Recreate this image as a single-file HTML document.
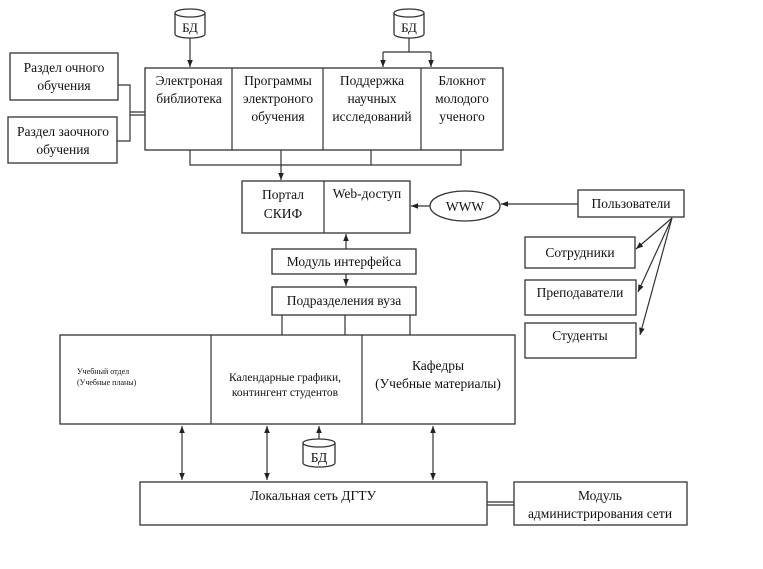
<!DOCTYPE html>
<html><head><meta charset="utf-8"><style>
body{margin:0;background:#fff}
svg{display:block}
text{font-family:"Liberation Serif",serif;fill:#111;text-anchor:middle}
.b{fill:#fff;stroke:#333;stroke-width:1.3}
.l{stroke:#333;stroke-width:1.2;fill:none}
</style></head><body>
<svg width="763" height="569" viewBox="0 0 763 569" xmlns="http://www.w3.org/2000/svg">
<defs><marker id="a" viewBox="0 0 10 10" refX="10" refY="5" markerWidth="6" markerHeight="6" orient="auto-start-reverse"><path d="M0,1 L10,5 L0,9z" fill="#222"/></marker></defs>

<!-- DB cylinders -->
<g id="db1"><path class="b" d="M175,13 v21 a15,4 0 0 0 30,0 v-21"/><ellipse class="b" cx="190" cy="13" rx="15" ry="4"/><text x="190" y="32" font-size="13">БД</text></g>
<path class="b" d="M394,13 v21 a15,4 0 0 0 30,0 v-21"/><ellipse class="b" cx="409" cy="13" rx="15" ry="4"/><text x="409" y="32" font-size="13">БД</text>
<line class="l" x1="190" y1="38" x2="190" y2="67" marker-end="url(#a)"/>
<path class="l" d="M409,38 V52 M383,52 H431"/>
<line class="l" x1="383" y1="52" x2="383" y2="67" marker-end="url(#a)"/>
<line class="l" x1="431" y1="52" x2="431" y2="67" marker-end="url(#a)"/>

<!-- top block -->
<rect class="b" x="145" y="68" width="358" height="82"/>
<path class="l" d="M232,68V150 M323,68V150 M421,68V150"/>
<text font-size="13.5"><tspan x="189" y="85">Электроная</tspan><tspan x="189" y="103">библиотека</tspan></text>
<text font-size="13.5"><tspan x="278" y="85">Программы</tspan><tspan x="278" y="103">электроного</tspan><tspan x="278" y="121">обучения</tspan></text>
<text font-size="13.5"><tspan x="372" y="85">Поддержка</tspan><tspan x="372" y="103">научных</tspan><tspan x="372" y="121">исследований</tspan></text>
<text font-size="13.5"><tspan x="462" y="85">Блокнот</tspan><tspan x="462" y="103">молодого</tspan><tspan x="462" y="121">ученого</tspan></text>

<!-- left boxes -->
<rect class="b" x="10" y="53" width="108" height="47"/>
<text font-size="13.5"><tspan x="64" y="72">Раздел очного</tspan><tspan x="64" y="90">обучения</tspan></text>
<rect class="b" x="8" y="117" width="109" height="46"/>
<text font-size="13.5"><tspan x="63" y="136">Раздел заочного</tspan><tspan x="63" y="154">обучения</tspan></text>
<path class="l" d="M118,85H130V141H117 M130,112H145 M130,115H145"/>

<!-- bottom of top block -->
<path class="l" d="M190,150V165H461V150 M371,150V165"/>
<line class="l" x1="281" y1="150" x2="281" y2="180" marker-end="url(#a)"/>

<!-- portal -->
<rect class="b" x="242" y="181" width="168" height="52"/>
<line class="l" x1="324" y1="181" x2="324" y2="233"/>
<text font-size="13.5"><tspan x="283" y="199">Портал</tspan><tspan x="283" y="218">СКИФ</tspan></text>
<text x="367" y="198" font-size="13.5">Web-доступ</text>
<ellipse class="b" cx="465" cy="206" rx="35" ry="15"/>
<text x="465" y="211" font-size="13.5">WWW</text>
<line class="l" x1="430" y1="206" x2="411" y2="206" marker-end="url(#a)"/>
<line class="l" x1="578" y1="204" x2="501" y2="204" marker-end="url(#a)"/>

<!-- users -->
<rect class="b" x="578" y="190" width="106" height="27"/>
<text x="631" y="208" font-size="13.5">Пользователи</text>
<rect class="b" x="525" y="237" width="110" height="31"/>
<text x="580" y="257" font-size="13.5">Сотрудники</text>
<rect class="b" x="525" y="280" width="111" height="35"/>
<text x="580" y="297" font-size="13.5">Преподаватели</text>
<rect class="b" x="525" y="323" width="111" height="35"/>
<text x="580" y="340" font-size="13.5">Студенты</text>
<line class="l" x1="672" y1="218" x2="636" y2="249" marker-end="url(#a)"/>
<line class="l" x1="672" y1="218" x2="638" y2="292" marker-end="url(#a)"/>
<line class="l" x1="672" y1="218" x2="640" y2="335" marker-end="url(#a)"/>

<!-- middle column -->
<line class="l" x1="346" y1="249" x2="346" y2="234" marker-end="url(#a)"/>
<rect class="b" x="272" y="249" width="144" height="25"/>
<text x="344" y="266" font-size="13.5">Модуль интерфейса</text>
<line class="l" x1="346" y1="274" x2="346" y2="286" marker-end="url(#a)"/>
<rect class="b" x="272" y="287" width="144" height="28"/>
<text x="344" y="305" font-size="13.5">Подразделения вуза</text>
<path class="l" d="M282,315V335 M345,315V335 M410,315V335"/>

<!-- big box -->
<rect class="b" x="60" y="335" width="455" height="89"/>
<path class="l" d="M211,335V424 M362,335V424"/>
<text font-size="8" style="text-anchor:start"><tspan x="77" y="374">Учебный отдел</tspan><tspan x="77" y="385">(Учебные планы)</tspan></text>
<text font-size="11.5"><tspan x="285" y="381">Календарные графики,</tspan><tspan x="285" y="396">контингент студентов</tspan></text>
<text font-size="13.5"><tspan x="438" y="370">Кафедры</tspan><tspan x="438" y="388">(Учебные материалы)</tspan></text>

<!-- arrows to local net -->
<line class="l" x1="182" y1="426" x2="182" y2="480" marker-start="url(#a)" marker-end="url(#a)"/>
<line class="l" x1="267" y1="426" x2="267" y2="480" marker-start="url(#a)" marker-end="url(#a)"/>
<line class="l" x1="433" y1="426" x2="433" y2="480" marker-start="url(#a)" marker-end="url(#a)"/>
<path class="b" d="M303,443 v20 a16,4 0 0 0 32,0 v-20"/><ellipse class="b" cx="319" cy="443" rx="16" ry="4"/>
<text x="319" y="462" font-size="13.5">БД</text>
<line class="l" x1="319" y1="439" x2="319" y2="426" marker-end="url(#a)"/>

<!-- bottom -->
<rect class="b" x="140" y="482" width="347" height="43"/>
<text x="313" y="500" font-size="13.5">Локальная сеть ДГТУ</text>
<rect class="b" x="514" y="482" width="173" height="43"/>
<text font-size="13.5"><tspan x="600" y="500">Модуль</tspan><tspan x="600" y="518">администрирования сети</tspan></text>
<path class="l" d="M487,502H514 M487,505H514"/>
</svg>
</body></html>
